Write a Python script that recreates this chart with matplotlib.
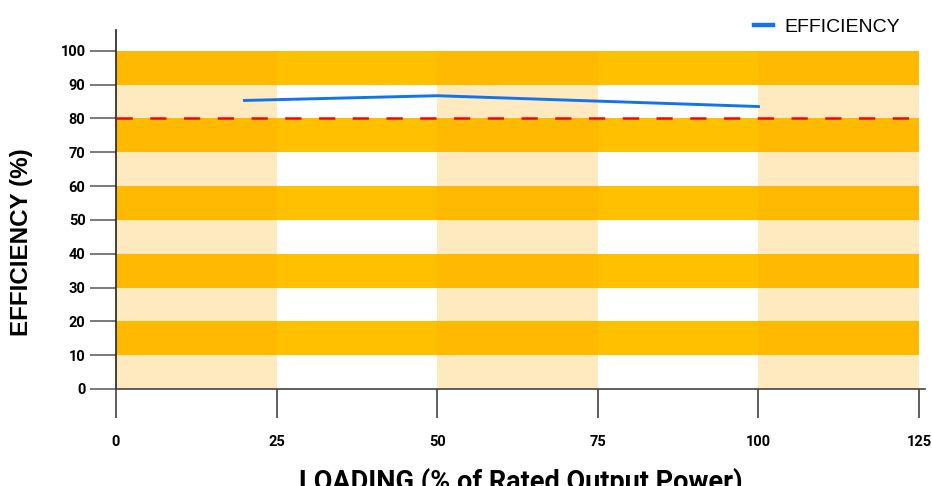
import matplotlib
matplotlib.use("Agg")
import matplotlib.pyplot as plt
from matplotlib.lines import Line2D

plt.rcParams['font.family'] = ['Roboto', 'DejaVu Sans']

# data
loading = [20, 50, 100]
efficiency = [85.3, 86.7, 83.5]
target = 80
x_ticks = [0, 25, 50, 75, 100, 125]
y_ticks = [0, 10, 20, 30, 40, 50, 60, 70, 80, 90, 100]
dark_bands = [(10, 20), (30, 40), (50, 60), (70, 80), (90, 100)]
light_cols = [(0, 25), (50, 75), (100, 125)]

fig = plt.figure(figsize=(9.32, 4.86), dpi=100)
ax = fig.add_axes([0.1245, 0.1996, 0.8685, 0.7378])

# fundo com faixas
for lo, hi in dark_bands:
    ax.fill_between([0, 125], lo, hi, color='#FFC000', lw=0, zorder=0)
for lo, hi in light_cols:
    ax.fill_between([lo, hi], 0, 100, color='#FFAC00', alpha=0.25, lw=0, zorder=1)

ax.hlines(target, 0, 125, colors='#FF0000', linewidth=1.8,
          linestyles=(0, (6.5, 7.0)), zorder=3)
ax.plot(loading, efficiency, color='#1273EB', linewidth=2.1, zorder=4)

ax.set_xlim(0, 126)
ax.set_ylim(0, 106)
ax.set_xticks(x_ticks)
ax.set_yticks(y_ticks)

for s in ['top', 'right']:
    ax.spines[s].set_visible(False)
ax.spines['left'].set_color('#222222')
ax.spines['bottom'].set_color('#444444')
ax.spines['left'].set_linewidth(1.2)
ax.spines['bottom'].set_linewidth(1.2)

ax.tick_params(axis='x', length=21, width=1.1, color='#333333', pad=12,
               labelsize=10.5)
ax.tick_params(axis='y', length=19, width=1.1, color='#555555', pad=3,
               labelsize=10.5)
for lab in ax.get_xticklabels() + ax.get_yticklabels():
    lab.set_fontweight('bold')

ax.set_ylabel('EFFICIENCY (%)', fontsize=17.4, fontweight='bold',
              family=['Liberation Sans', 'DejaVu Sans'])
ax.yaxis.set_label_coords(-0.1025, 0.41)
ax.set_xlabel('LOADING (% of Rated Output Power)', fontsize=19.5,
              fontweight='bold', labelpad=14)

handle = Line2D([], [], color='#1273EB', linewidth=3.2)
fig.legend([handle], ['EFFICIENCY'], loc='center left',
           bbox_to_anchor=(754 / 932, 1 - 27 / 486),
           frameon=False, borderpad=0, borderaxespad=0, handlelength=1.0,
           handletextpad=0.55,
           prop={'family': ['Liberation Sans', 'DejaVu Sans'], 'size': 14})

fig.savefig('out.png', dpi=100)
